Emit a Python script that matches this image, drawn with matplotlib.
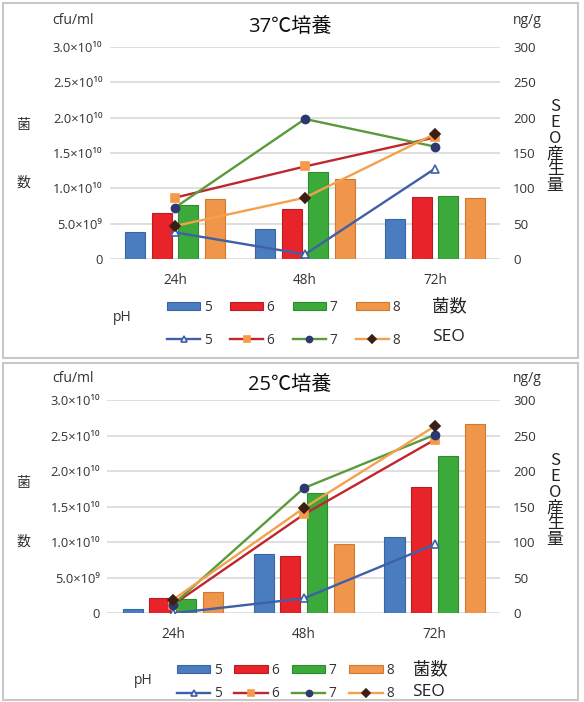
import matplotlib
matplotlib.use('Agg')
import matplotlib.pyplot as plt
from matplotlib.patches import Rectangle
import numpy as np

plt.rcParams['font.family'] = ['Open Sans', 'Noto Sans CJK JP', 'DejaVu Sans']

# ---------------- data ----------------
times = ['24h', '48h', '72h']
ph_labels = ['5', '6', '7', '8']

# 37°C bacterial counts (cfu/ml)
count37_ph5 = [3.9e9, 4.24e9, 5.7e9]
count37_ph6 = [6.5e9, 7.1e9, 8.8e9]
count37_ph7 = [7.6e9, 12.3e9, 9.0e9]
count37_ph8 = [8.5e9, 11.4e9, 8.66e9]
# 37°C SEO production (ng/g)
seo37_ph5 = [38, 7, 128]
seo37_ph6 = [87, 131, 172]
seo37_ph7 = [73, 198, 159]
seo37_ph8 = [47, 87, 177]

# 25°C bacterial counts (cfu/ml)
count25_ph5 = [0.65e9, 8.4e9, 10.7e9]
count25_ph6 = [2.1e9, 8.0e9, 17.8e9]
count25_ph7 = [2.05e9, 16.9e9, 22.1e9]
count25_ph8 = [3.0e9, 9.8e9, 26.6e9]
# 25°C SEO production (ng/g)
seo25_ph5 = [0, 21, 97]
seo25_ph6 = [12, 139, 244]
seo25_ph7 = [12, 176, 251]
seo25_ph8 = [19, 148, 263]

left_ticks = [0, 5e9, 1e10, 1.5e10, 2e10, 2.5e10, 3e10]
left_ticklabels = ['0', '5.0×10⁹', '1.0×10¹⁰', '1.5×10¹⁰', '2.0×10¹⁰', '2.5×10¹⁰', '3.0×10¹⁰']
right_ticks = [0, 50, 100, 150, 200, 250, 300]

# ---------------- styles ----------------
bar_face = ['#4A7DC0', '#E8232A', '#3BAA3B', '#F0964A']
bar_edge = ['#3A66A0', '#B81D22', '#2E8A2E', '#D07A30']
line_col = ['#3F5FA8', '#C0262D', '#5B9A3C', '#F3A24B']
mk = ['^', 's', 'o', 'D']
mk_face = ['white', '#F39B4B', '#2D3770', '#3B1F14']
mk_edge = ['#3F5FA8', '#F39B4B', '#2D3770', '#3B1F14']
mk_size = [6, 5.8, 5.8, 5.2]

W, H = 584, 702
fig = plt.figure(figsize=(W / 100, H / 100), dpi=100)
fig.patch.set_facecolor('white')

def fx(x):
    return x / W

def fy(y):
    return 1 - y / H

TXT = '#333333'

def panel(box, ax_rect, title, counts, seos, lay):
    # panel border
    x0, y0, x1, y1 = box
    fig.patches.append(Rectangle((fx(x0), fy(y1)), fx(x1 - x0), (y1 - y0) / H,
                                 transform=fig.transFigure, fill=False,
                                 edgecolor='#C8C8C8', linewidth=1.5, zorder=0))
    L, T, R, B = ax_rect
    ax = fig.add_axes([fx(L), fy(B), fx(R - L), (B - T) / H])
    ax2 = ax.twinx()
    xs = np.arange(len(times))
    offs = (np.arange(4) - 1.5) * 0.204
    bars = []
    for i in range(4):
        b = ax.bar(xs + offs[i], counts[i], width=0.154, color=bar_face[i],
                   edgecolor=bar_edge[i], linewidth=0.8, zorder=3)
        bars.append(b)
    lines = []
    for i in range(4):
        ln, = ax2.plot(xs, seos[i], color=line_col[i], linewidth=1.7,
                       marker=mk[i], markersize=mk_size[i],
                       markerfacecolor=mk_face[i], markeredgecolor=mk_edge[i],
                       markeredgewidth=1.2, zorder=4)
        lines.append(ln)
    ax.set_xlim(-0.5, 2.5)
    ax.set_ylim(0, 3e10)
    ax2.set_ylim(0, 300)
    ax.set_yticks(left_ticks)
    ax.set_yticklabels(left_ticklabels)
    ax2.set_yticks(right_ticks)
    ax.set_xticks(xs)
    ax.set_xticklabels(times)
    ax.grid(axis='y', color='#D9D9D9', linewidth=1.2, zorder=0)
    ax.set_axisbelow(True)
    for a in (ax, ax2):
        for s in a.spines.values():
            s.set_visible(False)
    ax.tick_params(axis='y', length=0, pad=5.5, labelsize=9.3, colors=TXT)
    ax2.tick_params(axis='y', length=0, pad=9.5, labelsize=9.5, colors=TXT)
    ax.tick_params(axis='x', length=0, pad=10, labelsize=9.8, colors=TXT)

    # texts
    fig.text(fx(lay['cfu'][0]), fy(lay['cfu'][1]), 'cfu/ml', fontsize=10, color=TXT,
             ha='left', va='center')
    fig.text(fx(lay['ng'][0]), fy(lay['ng'][1]), 'ng/g', fontsize=10, color=TXT,
             ha='left', va='center')
    fig.text(fx(lay['title'][0]), fy(lay['title'][1]), title, fontsize=14.5,
             color='#111111', ha='center', va='center')
    fig.text(fx(23), fy(lay['kin'][0]), '菌', fontsize=10, color=TXT, ha='center', va='center')
    fig.text(fx(23), fy(lay['kin'][1]), '数', fontsize=10, color=TXT, ha='center', va='center')
    fig.text(fx(555), fy(lay['seo_lab']), 'S\nE\nO\n産\n生\n量', fontsize=12,
             color='#222222', ha='center', va='center', linespacing=0.92,
             family=['Noto Sans CJK JP', 'DejaVu Sans'])
    fig.text(fx(lay['ph'][0]), fy(lay['ph'][1]), 'pH', fontsize=10, color=TXT,
             ha='center', va='center')
    fig.text(fx(lay['kinsu'][0]), fy(lay['kinsu'][1]), '菌数', fontsize=12.5,
             color='#222222', ha='left', va='center')
    fig.text(fx(lay['seo'][0]), fy(lay['seo'][1]), 'SEO', fontsize=12.5,
             color='#222222', ha='left', va='center')

    handles, labels = [], []
    for i in range(4):
        handles += [bars[i], lines[i]]
        labels += [ph_labels[i], ph_labels[i]]
    fig.legend(handles, labels, ncol=4, loc='upper left',
               bbox_to_anchor=(fx(lay['leg'][0]), fy(lay['leg'][1])),
               frameon=False, borderpad=0, borderaxespad=0,
               handlelength=2.45, handleheight=0.55, handletextpad=0.25,
               columnspacing=lay['colsp'], labelspacing=lay['labsp'],
               fontsize=9.8, labelcolor=TXT, markerscale=0.75)

panel((3, 3, 578, 358), (110, 46.7, 500, 259.3), '37℃培養',
      [count37_ph5, count37_ph6, count37_ph7, count37_ph8],
      [seo37_ph5, seo37_ph6, seo37_ph7, seo37_ph8],
      dict(cfu=(52, 20), ng=(513, 21), title=(290, 27), kin=(126, 183),
           seo_lab=(146), ph=(122, 318), kinsu=(432, 307), seo=(432, 337),
           leg=(167, 300), colsp=1.35, labsp=1.3))

panel((3, 363, 578, 700), (107.5, 400, 500, 613.3), '25℃培養',
      [count25_ph5, count25_ph6, count25_ph7, count25_ph8],
      [seo25_ph5, seo25_ph6, seo25_ph7, seo25_ph8],
      dict(cfu=(52, 378), ng=(513, 378), title=(290, 385), kin=(483, 542),
           seo_lab=(500), ph=(143, 681), kinsu=(413, 670), seo=(412, 692),
           leg=(177, 663), colsp=0.95, labsp=0.62))

fig.savefig('out.png', dpi=100, facecolor='white')
